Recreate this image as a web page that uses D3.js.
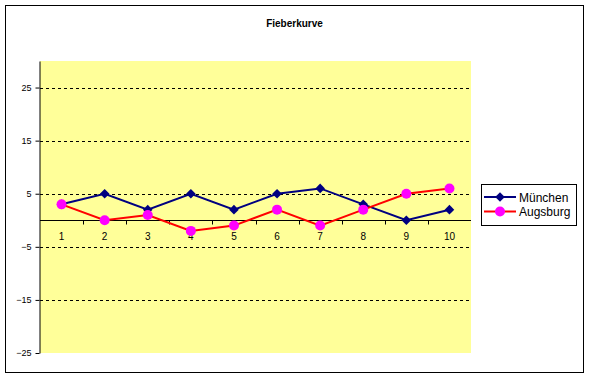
<!DOCTYPE html>
<html>
<head>
<meta charset="utf-8">
<script src="https://cdn.jsdelivr.net/npm/d3@7"></script>
<style>
  html, body { margin: 0; padding: 0; background: #fff; }
  svg { display: block; font-family: "Liberation Sans", Arial, sans-serif; }
</style>
</head>
<body>
<div id="chart"></div>
<script>
// Fieberkurve data
const categories = ["1", "2", "3", "4", "5", "6", "7", "8", "9", "10"];
const muenchen = [3, 5, 2, 5, 2, 5, 6, 3, 0, 2];
const augsburg = [3, 0, 1, -2, -1, 2, -1, 2, 5, 6];
const yTicks = [25, 15, 5, -5, -15, -25];

const SERIES = [
  { name: "München", values: muenchen, line: "#000080", marker: "#000080", shape: "diamond" },
  { name: "Augsburg", values: augsburg, line: "#ff0000", marker: "#ff00ff", shape: "circle" }
];

const width = 589, height = 378;
const m = { top: 61, right: 118, bottom: 25, left: 40 };

const svg = d3.select("#chart").append("svg")
  .attr("width", width)
  .attr("height", height);

// outer frame
svg.append("rect")
  .attr("x", 5.5).attr("y", 5.5)
  .attr("width", 578).attr("height", 367)
  .attr("fill", "#fff")
  .attr("stroke", "#000")
  .attr("stroke-width", 1);

svg.append("text")
  .attr("x", 294.5)
  .attr("y", 27)
  .attr("text-anchor", "middle")
  .attr("font-size", 10)
  .attr("font-weight", "bold")
  .text("Fieberkurve");

const x = d3.scaleBand()
  .domain(categories)
  .range([m.left, width - m.right]);

const y = d3.scaleLinear()
  .domain([-25, 30])
  .range([height - m.bottom, m.top]);

// plot area
svg.append("rect")
  .attr("x", m.left)
  .attr("y", m.top)
  .attr("width", width - m.left - m.right)
  .attr("height", height - m.top - m.bottom)
  .attr("fill", "#ffff99");

// grid lines (dashed)
svg.append("g")
  .selectAll("line")
  .data(yTicks.filter(d => d > -25))
  .enter().append("line")
  .attr("x1", m.left)
  .attr("x2", width - m.right)
  .attr("y1", d => Math.round(y(d)) + 0.5)
  .attr("y2", d => Math.round(y(d)) + 0.5)
  .attr("stroke", "#000")
  .attr("stroke-dasharray", "3,3");

// y axis
const yAxis = svg.append("g")
  .attr("transform", `translate(${m.left - 0.5},0)`)
  .call(d3.axisLeft(y).tickValues(yTicks).tickSize(4).tickSizeOuter(0));
yAxis.selectAll("text").attr("font-size", 9).attr("font-family", "Liberation Sans, Arial").attr("dx", -1);
yAxis.select(".domain").attr("stroke", "#000");

// x axis at zero
const x0 = Math.round(y(0)) + 0.5;
svg.append("line")
  .attr("x1", m.left).attr("x2", width - m.right)
  .attr("y1", x0).attr("y2", x0)
  .attr("stroke", "#000");

svg.append("g")
  .selectAll("line")
  .data(categories.slice(1))
  .enter().append("line")
  .attr("x1", d => Math.round(x(d)) + 0.5)
  .attr("x2", d => Math.round(x(d)) + 0.5)
  .attr("y1", x0)
  .attr("y2", x0 + 4)
  .attr("stroke", "#000");

svg.append("g")
  .selectAll("text")
  .data(categories)
  .enter().append("text")
  .attr("x", d => x(d) + x.bandwidth() / 2)
  .attr("y", x0 + 19)
  .attr("text-anchor", "middle")
  .attr("font-size", 10)
  .text(d => d);

// lines + markers
const line = d3.line()
  .x((d, i) => x(categories[i]) + x.bandwidth() / 2)
  .y(d => y(d));

const diamond = d3.symbol().type(d3.symbolDiamond2).size(70);

function drawMarker(g, shape, color, cx, cy) {
  if (shape === "circle") {
    g.append("circle").attr("cx", cx).attr("cy", cy).attr("r", 5).attr("fill", color);
  } else {
    g.append("path")
      .attr("d", d3.symbol().type(d3.symbolSquare).size(46)())
      .attr("transform", `translate(${cx},${cy}) rotate(45)`)
      .attr("fill", color);
  }
}

SERIES.forEach(s => {
  const g = svg.append("g");
  g.append("path")
    .datum(s.values)
    .attr("fill", "none")
    .attr("stroke", s.line)
    .attr("stroke-width", 2)
    .attr("d", line);
  s.values.forEach((v, i) => {
    drawMarker(g, s.shape, s.marker, x(categories[i]) + x.bandwidth() / 2, y(v));
  });
});

// legend
const lg = svg.append("g");
lg.append("rect")
  .attr("x", 481.5).attr("y", 184.5)
  .attr("width", 95).attr("height", 41)
  .attr("fill", "#fff")
  .attr("stroke", "#000");

SERIES.forEach((s, i) => {
  const ly = 197 + i * 14.5;
  lg.append("line")
    .attr("x1", 484).attr("x2", 516)
    .attr("y1", ly).attr("y2", ly)
    .attr("stroke", s.line)
    .attr("stroke-width", 2);
  drawMarker(lg, s.shape, s.marker, 500, ly);
  lg.append("text")
    .attr("x", 519)
    .attr("y", ly + 4.5)
    .attr("font-size", 12)
    .text(s.name);
});
</script>
</body>
</html>
